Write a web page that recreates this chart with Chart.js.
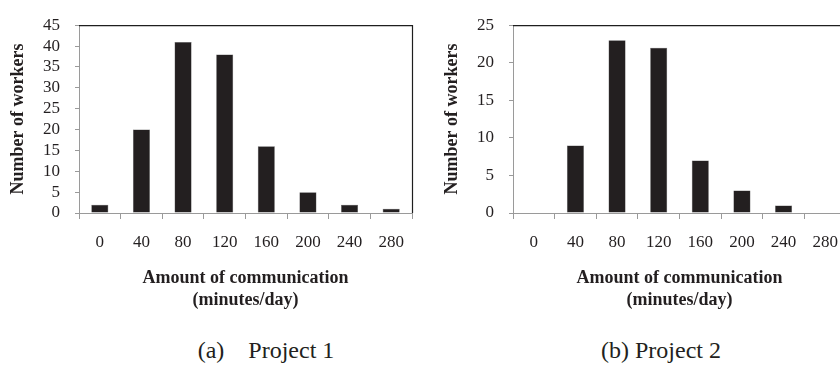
<!DOCTYPE html>
<html><head><meta charset="utf-8">
<script src="https://cdn.jsdelivr.net/npm/chart.js@4"></script>
<style>
html,body{margin:0;padding:0;background:#fff;width:840px;height:367px;overflow:hidden;}
#wrap{position:relative;width:840px;height:367px;overflow:hidden;}
canvas{position:absolute;top:0;}
.cap{position:absolute;top:338px;font-family:'Liberation Serif','Times New Roman',serif;font-size:24px;color:#231f20;white-space:pre;line-height:24px;transform:translateX(-50%);}
</style></head><body>
<div id="wrap">
<canvas id="c1" width="420" height="320" style="left:0"></canvas>
<canvas id="c2" width="420" height="320" style="left:434px"></canvas>
<div class="cap" style="left:266px">(a)    Project 1</div>
<div class="cap" style="left:661px">(b) Project 2</div>
</div>
<script>
const categories = ['0','40','80','120','160','200','240','280'];
const project1Workers = [2,20,41,38,16,5,2,1];
const project2Workers = [0,9,23,22,7,3,1,0];
const project1YMax = 45;
const project2YMax = 25;
const yStep = 5;
const yTitle = 'Number of workers';
const xTitle = ['Amount of communication','(minutes/day)'];

const SERIF = "'Liberation Serif','Times New Roman',serif";
const INK = '#231f20';
const AXIS = '#9a9a9a';

const framePlugin = {
  id:'frame',
  afterDraw(chart){
    const {ctx, chartArea:a} = chart;
    ctx.save();
    ctx.strokeStyle = '#1e1e1e';
    ctx.lineWidth = 1.2;
    ctx.beginPath();
    ctx.moveTo(a.left, a.top + 0.5);
    ctx.lineTo(a.right + 0.5, a.top + 0.5);
    ctx.lineTo(a.right + 0.5, a.bottom);
    ctx.stroke();
    ctx.restore();
  }
};

function makeChart(id, values, yMax){
  return new Chart(document.getElementById(id), {
    type:'bar',
    data:{labels:categories, datasets:[{data:values, backgroundColor:INK, borderColor:'#555', borderWidth:0.5, categoryPercentage:1, barPercentage:0.41}]},
    options:{
      responsive:false, animation:false, devicePixelRatio:1,
      layout:{padding:{top:21,right:8,left:0,bottom:0}},
      plugins:{legend:{display:false}, tooltip:{enabled:false}},
      scales:{
        x:{
          type:'category', offset:true,
          grid:{offset:true, drawOnChartArea:false, drawTicks:true, tickLength:6, color:AXIS},
          border:{color:AXIS, width:1},
          ticks:{color:INK, font:{family:SERIF, size:17}, padding:13, maxRotation:0, autoSkip:false},
          title:{display:true, text:xTitle, color:INK, font:{family:SERIF, size:18, weight:'bold', lineHeight:1.22}, padding:{top:0,bottom:9}},
          afterFit(s){ s.height = 107; }
        },
        y:{
          min:0, max:yMax,
          grid:{drawOnChartArea:false, drawTicks:true, tickLength:4, color:AXIS},
          border:{color:AXIS, width:1},
          ticks:{stepSize:yStep, autoSkip:false, maxTicksLimit:20, color:INK, font:{family:SERIF, size:17}, padding:15},
          title:{display:true, text:yTitle, color:INK, font:{family:SERIF, size:18, weight:'bold', lineHeight:1.2}, padding:{top:8,bottom:0}},
          afterFit(s){ s.width = 79; }
        }
      }
    },
    plugins:[framePlugin]
  });
}
makeChart('c1', project1Workers, project1YMax);
makeChart('c2', project2Workers, project2YMax);
</script>
</body></html>
